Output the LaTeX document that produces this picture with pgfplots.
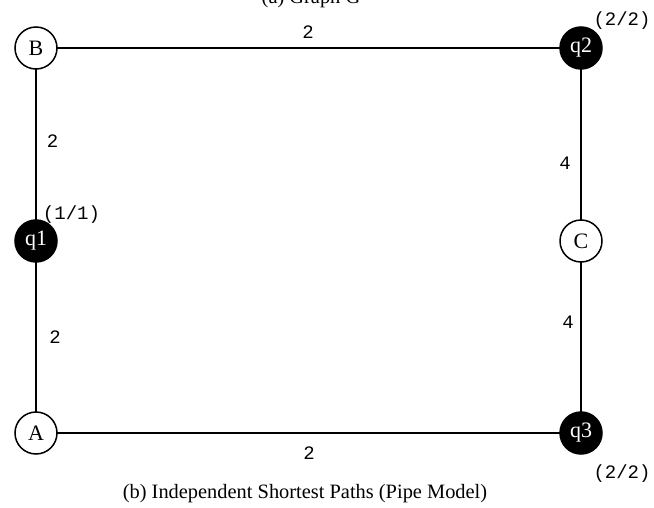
\documentclass[border=0pt]{standalone}
\usepackage{fontspec}
\setmainfont{Liberation Serif}
\setmonofont{Liberation Mono}
\usepackage{pgfplots}
\pgfplotsset{compat=1.18}
\begin{document}
\begin{tikzpicture}
\begin{axis}[
  at={(0,0)}, anchor=south west,
  scale only axis, width=327bp, height=254bp,
  xmin=0, xmax=654, ymin=0, ymax=508, y dir=reverse,
  axis lines=none, clip=false,
]
% edges
\addplot[black, line width=1bp] coordinates {(36,48) (581,48)};
\addplot[black, line width=1bp] coordinates {(36,48) (36,433)};
\addplot[black, line width=1bp] coordinates {(36,433) (581,433)};
\addplot[black, line width=1bp] coordinates {(581,48) (581,433)};
% plain nodes
\addplot[only marks, mark=*, mark size=10.5bp,
  mark options={fill=white, draw=black, line width=0.75bp},
  nodes near coords, point meta=explicit symbolic,
  every node near coord/.append style={font=\fontsize{11bp}{13bp}\selectfont, text=black, anchor=center, inner sep=0pt}]
  table[meta=label] {
x y label
36 48 B
581 241 C
36 433 A
};
% query nodes
\addplot[only marks, mark=*, mark size=10.5bp,
  mark options={fill=black, draw=black, line width=0.75bp},
  nodes near coords, point meta=explicit symbolic,
  every node near coord/.append style={font=\fontsize{11bp}{13bp}\selectfont, text=white, anchor=center, inner sep=0pt}]
  table[meta=label] {
x y label
581 48 q2
36 241 q1
581 433 q3
};
% edge weights
\begin{scope}[every node/.style={font=\ttfamily\fontsize{9.5bp}{11bp}\selectfont, anchor=center, inner sep=0pt}]
\node at (axis cs:308,32.5) {2};
\node at (axis cs:52.5,141) {2};
\node at (axis cs:565,163) {4};
\node at (axis cs:55,337.5) {2};
\node at (axis cs:568,322) {4};
\node at (axis cs:309,453) {2};
\node at (axis cs:71.5,215) {(1/1)};
\node at (axis cs:622,21) {(2/2)};
\node at (axis cs:622,474) {(2/2)};
\end{scope}
% titles
\node[anchor=base, font=\fontsize{10.2bp}{12bp}\selectfont, inner sep=0pt] at (axis cs:311,4) {(a) Graph G};
\node[anchor=base, font=\fontsize{10.2bp}{12bp}\selectfont, inner sep=0pt] at (axis cs:305,498) {(b) Independent Shortest Paths (Pipe Model)};
\end{axis}
\pgfresetboundingbox
\path[use as bounding box] (0,0) rectangle (327bp,254bp);
\end{tikzpicture}
\end{document}
